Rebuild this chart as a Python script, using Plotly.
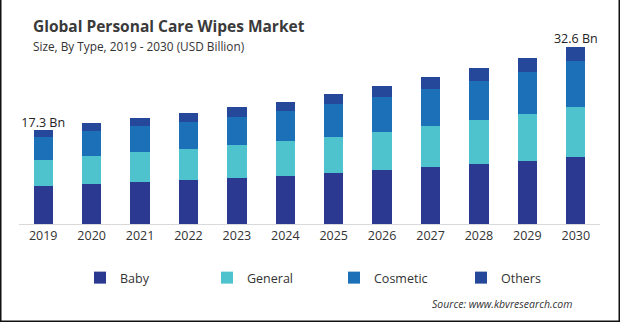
import plotly.graph_objects as go

years = ["2019", "2020", "2021", "2022", "2023", "2024", "2025", "2026", "2027", "2028", "2029", "2030"]
baby = [7.0, 7.3, 7.7, 8.1, 8.4, 8.8, 9.4, 9.9, 10.5, 11.0, 11.6, 12.3]
general = [4.8, 5.1, 5.5, 5.7, 6.1, 6.4, 6.6, 7.0, 7.5, 8.1, 8.6, 9.2]
cosmetic = [4.1, 4.6, 4.8, 5.0, 5.1, 5.5, 6.1, 6.4, 6.8, 7.2, 7.7, 8.4]
others = [1.4, 1.5, 1.4, 1.6, 1.9, 1.7, 1.8, 2.0, 2.2, 2.4, 2.6, 2.7]
series_names = ["Baby", "General", "Cosmetic", "Others"]
colors = ["#2B3990", "#4EC3CE", "#1C70B7", "#25489A"]
first_label = "17.3 Bn"
last_label = "32.6 Bn"

W, H = 620, 322
L, R, T, B = 19, 20, 28, 98
pw, ph = W - L - R, H - T - B

def px(x):
    return (x - L) / pw

def py(y_top):
    return (H - B - y_top) / ph

fig = go.Figure()
for name, vals, c in zip(series_names, [baby, general, cosmetic, others], colors):
    fig.add_trace(go.Bar(x=years, y=vals, name=name, marker=dict(color=c, line=dict(width=0))))

totals = [round(a + b + c + d, 1) for a, b, c, d in zip(baby, general, cosmetic, others)]

fig.add_trace(go.Scatter(
    x=[years[0], years[-1]], y=[totals[0], totals[-1]],
    mode="text", text=[first_label, last_label], textposition="top center",
    textfont=dict(size=12.5, color="#222222", family="Open Sans"),
    showlegend=False, hoverinfo="skip", cliponaxis=False,
))

fig.update_layout(
    width=W, height=H,
    margin=dict(l=L, r=R, t=T, b=B, autoexpand=False),
    barmode="stack", bargap=0.6,
    plot_bgcolor="white", paper_bgcolor="white",
    font=dict(family="Open Sans", color="#333333"),
    xaxis=dict(type="category", showline=True, linecolor="#d9d9d9", linewidth=1, ticks="",
               tickfont=dict(size=12.5, color="#333333", family="Open Sans"),
               range=[-0.5, 11.5], automargin=False),
    yaxis=dict(range=[0, 36], showticklabels=False, showgrid=False, zeroline=False,
               showline=False, ticks="", automargin=False),
    showlegend=True,
    legend=dict(orientation="h", x=px(80), y=py(263), xanchor="left", yanchor="top",
                font=dict(size=12.5, color="#333333", family="Open Sans"),
                entrywidth=82, entrywidthmode="pixels", traceorder="normal",
                itemwidth=30, bgcolor="rgba(0,0,0,0)"),
    annotations=[
        dict(text="<b>Global Personal Care Wipes Market</b>", xref="paper", yref="paper",
             x=px(31), y=py(26), xanchor="left", yanchor="middle", showarrow=False,
             font=dict(size=15.5, color="#3a3a3a", family="Open Sans")),
        dict(text="Size, By Type, 2019 - 2030 (USD Billion)", xref="paper", yref="paper",
             x=px(31), y=py(46), xanchor="left", yanchor="middle", showarrow=False,
             font=dict(size=11.8, color="#333333", family="Open Sans")),
        dict(text="<i>Source: www.kbvresearch.com</i>", xref="paper", yref="paper",
             x=px(574), y=py(304), xanchor="right", yanchor="middle", showarrow=False,
             font=dict(size=10.5, color="#333333", family="Open Sans")),
    ],
    shapes=[
        dict(type="line", xref="paper", yref="paper", x0=px(0.5), x1=px(0.5), y0=py(0), y1=py(H), line=dict(color="#111111", width=2)),
        dict(type="line", xref="paper", yref="paper", x0=px(619.5), x1=px(619.5), y0=py(0), y1=py(H), line=dict(color="#111111", width=2)),
        dict(type="line", xref="paper", yref="paper", x0=px(0), x1=px(620), y0=py(H - 0.5), y1=py(H - 0.5), line=dict(color="#111111", width=2)),
    ],
)

fig.write_html("out.html")
